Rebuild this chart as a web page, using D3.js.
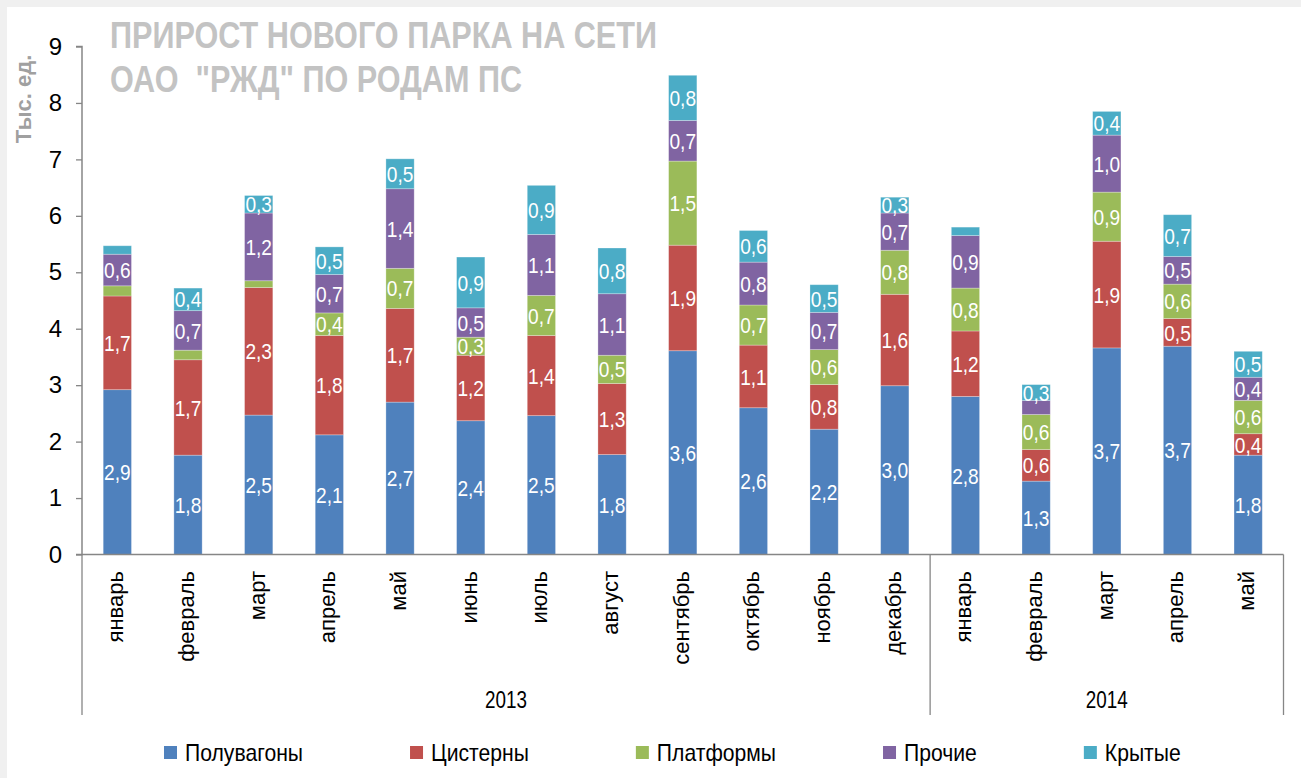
<!DOCTYPE html>
<html><head><meta charset="utf-8">
<script src="https://cdn.jsdelivr.net/npm/d3@7"></script>
<style>
html,body{margin:0;padding:0;background:#f0f0f0;}
svg{display:block;}
text{font-family:"Liberation Sans",Arial,sans-serif;}
</style></head><body>
<svg id="c" width="1301" height="778"></svg>
<script>
const months = ["январь","февраль","март","апрель","май","июнь","июль","август","сентябрь","октябрь","ноябрь","декабрь","январь","февраль","март","апрель","май"];
const years = [{label:"2013", from:0, to:12},{label:"2014", from:12, to:17}];
const seriesNames = ["Полувагоны","Цистерны","Платформы","Прочие","Крытые"];
const poluvagony = [2.92,1.76,2.47,2.12,2.70,2.37,2.46,1.77,3.61,2.60,2.22,2.99,2.80,1.30,3.66,3.69,1.76];
const cisterny   = [1.66,1.69,2.26,1.76,1.66,1.16,1.42,1.26,1.87,1.11,0.79,1.62,1.16,0.56,1.89,0.49,0.38];
const platformy  = [0.18,0.17,0.12,0.40,0.71,0.32,0.71,0.50,1.49,0.71,0.62,0.78,0.76,0.62,0.87,0.61,0.59];
const prochie    = [0.56,0.70,1.20,0.68,1.41,0.52,1.08,1.09,0.72,0.76,0.66,0.66,0.93,0.25,1.01,0.49,0.41];
const krytye     = [0.15,0.40,0.31,0.49,0.53,0.90,0.87,0.81,0.80,0.56,0.49,0.28,0.15,0.28,0.42,0.74,0.46];
const yTicks = [0,1,2,3,4,5,6,7,8,9];
const colors = ["#4F81BD","#C0504D","#9BBB59","#8064A2","#4BACC6"];
const titleLines = ["ПРИРОСТ НОВОГО ПАРКА НА СЕТИ", "ОАО  \"РЖД\" ПО РОДАМ ПС"];
const yTitle = "Тыс. ед.";

const seriesVals = [poluvagony, cisterny, platformy, prochie, krytye];
const table = months.map((m,i)=>{ const o={idx:i}; seriesNames.forEach((s,k)=>o[s]=seriesVals[k][i]); return o; });

const svg = d3.select("#c");
svg.append("rect").attr("x",7).attr("y",7).attr("width",1294).attr("height",771).attr("fill","#ffffff");

const pL=82, pR=1283.5, pT=46.5, pB=554.5;
const x = d3.scaleBand().domain(d3.range(months.length)).range([pL,pR]).paddingInner(0.6).paddingOuter(0.3);
const y = d3.scaleLinear().domain([0,9]).range([pB,pT]);
const stack = d3.stack().keys(seriesNames)(table);
const fmt = d3.formatLocale({decimal:",",thousands:" ",grouping:[3],currency:["",""]}).format(".1f");

// bars
const g = svg.append("g");
stack.forEach((layer,k)=>{
  g.append("g").selectAll("rect").data(layer).join("rect")
   .attr("x",d=>x(d.data.idx)).attr("width",x.bandwidth())
   .attr("y",d=>y(d[1])).attr("height",d=>y(d[0])-y(d[1]))
   .attr("fill",colors[k]).attr("stroke","rgba(255,255,255,0.35)").attr("stroke-width",0.8);
});
// labels
stack.forEach((layer,k)=>{
  g.append("g").selectAll("g").data(layer.filter(d=>d[1]-d[0]>=0.27)).join("g")
   .attr("transform",d=>`translate(${x(d.data.idx)+x.bandwidth()/2},${(y(d[0])+y(d[1]))/2}) scale(0.85,1)`)
   .append("text").attr("text-anchor","middle").attr("dy","0.36em")
   .attr("fill","#fff").attr("font-size",22.5).text(d=>fmt(d[1]-d[0]));
});

// y axis
const ya = svg.append("g").attr("transform",`translate(${pL},0)`)
  .call(d3.axisLeft(y).tickValues(yTicks).tickFormat(d3.format("d")).tickSize(6).tickPadding(14));
ya.select(".domain").attr("stroke","#868686").attr("stroke-width",1.5).attr("d",`M-6,${pT}H0V${pB}H-6`);
ya.selectAll(".tick line").attr("stroke","#868686").attr("stroke-width",1.3);
ya.selectAll(".tick text").attr("font-size",24).attr("fill","#000").attr("font-family","Liberation Sans, Arial, sans-serif");

// baseline
svg.append("line").attr("x1",pL).attr("x2",pR).attr("y1",pB).attr("y2",pB).attr("stroke","#868686").attr("stroke-width",1.5);
// separators
const sepPos = [pL].concat(years.map(yr=> yr.to===months.length ? pR : x(yr.to) - x.paddingInner()*x.step()/2));
sepPos.forEach(sx=>svg.append("line").attr("x1",sx).attr("x2",sx).attr("y1",pB).attr("y2",715).attr("stroke","#868686").attr("stroke-width",1.3));

// month labels
svg.append("g").selectAll("text").data(months).join("text")
  .attr("transform",(d,i)=>`translate(${x(i)+x.bandwidth()/2},571) rotate(-90)`)
  .attr("text-anchor","end").attr("dy","0.27em").attr("font-size",22).attr("fill","#000").text(d=>d);

// year labels
years.forEach((yr,j)=>{
  const cx = (sepPos[j]+sepPos[j+1])/2;
  svg.append("g").attr("transform",`translate(${cx},700) scale(0.82,1)`)
    .append("text").attr("text-anchor","middle").attr("dy","0.36em").attr("font-size",23).attr("fill","#000").text(yr.label);
});

// y title
svg.append("text").attr("transform","translate(31,99) rotate(-90)").attr("text-anchor","middle")
  .attr("font-size",22).attr("font-weight","bold").attr("fill","#a0a0a0").text(yTitle);

// title
const tl = [547, 412];
titleLines.forEach((t,i)=>{
  svg.append("text").attr("x",110).attr("y",48.3+43.4*i)
    .attr("font-family","'Liberation Sans Narrow','Arial Narrow','Liberation Sans',sans-serif")
    .attr("font-weight","bold").attr("font-size",37).attr("fill","#c3c3c3")
    .style("white-space","pre").attr("textLength",tl[i]).attr("lengthAdjust","spacingAndGlyphs").text(t);
});

// legend
let lx = 164;
const lsx = 0.92;
const lg = svg.append("g");
seriesNames.forEach((s,k)=>{
  lg.append("rect").attr("x",lx).attr("y",746).attr("width",13).attr("height",13).attr("fill",colors[k]);
  const t = lg.append("g").attr("transform",`translate(${lx+21},753) scale(${lsx},1)`)
    .append("text").attr("dy","0.36em").attr("font-size",23).attr("fill","#000").text(s);
  lx = lx + 21 + t.node().getComputedTextLength()*lsx + 107;
});
</script>
</body></html>
